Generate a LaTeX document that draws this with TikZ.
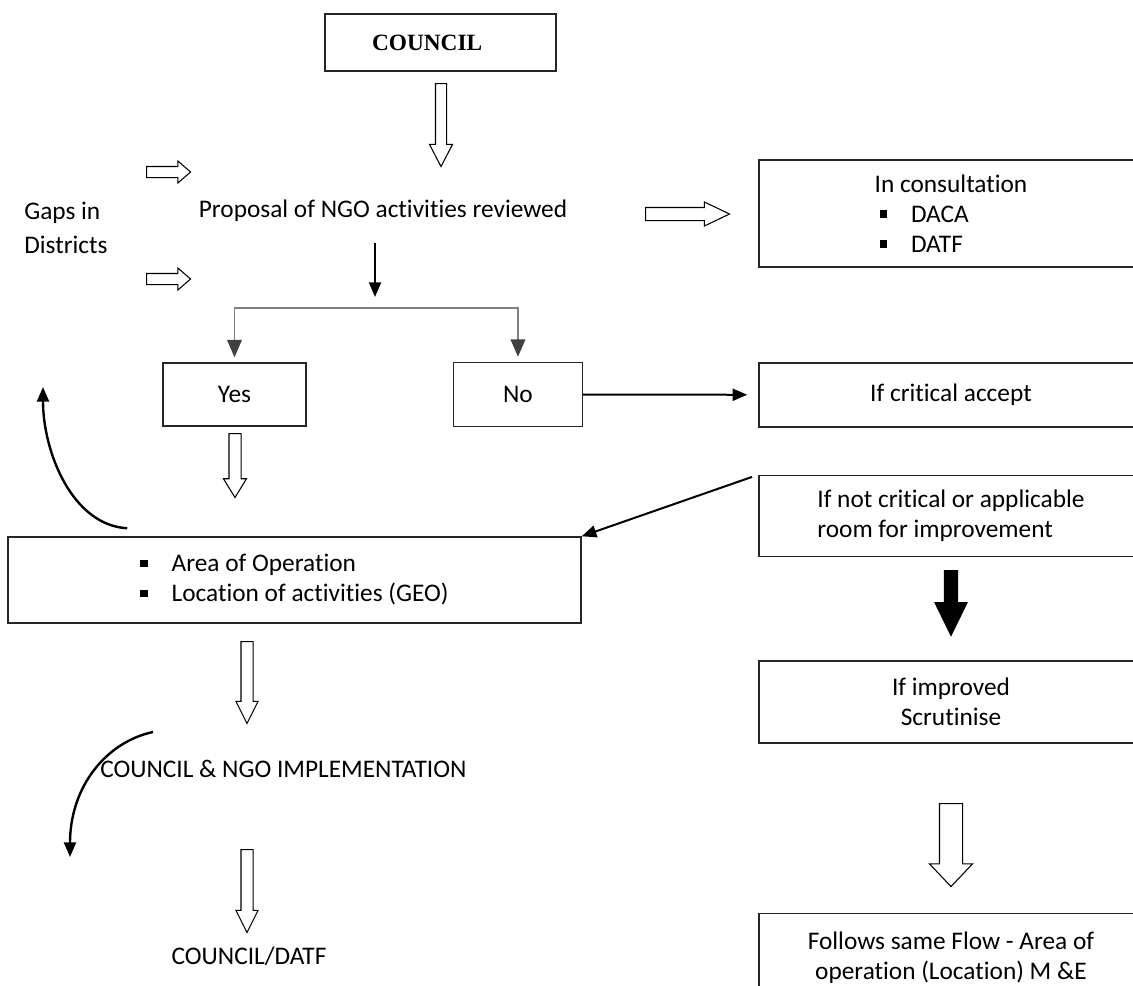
\documentclass[tikz,border=0pt]{standalone}
\usepackage{fontspec}
\setmainfont{Carlito}[Ligatures=NoCommon]
\newfontfamily\councilfont{Liberation Serif}
\usetikzlibrary{positioning}
\usetikzlibrary{shapes.arrows}
\usetikzlibrary{arrows.meta}
\newcommand{\flowtext}{\fontsize{19pt}{22.5pt}\selectfont}
\newcommand{\sqitem}{\rule[3.4pt]{5.5pt}{5.5pt}\hspace{18pt}}
\tikzset{flow box/.style={draw=black!85, line width=1.1pt, font=\flowtext, align=left, inner sep=0pt},}
\tikzset{flow text/.style={font=\flowtext, inner sep=0pt, align=left},}
\tikzset{hollow arrow/.style={single arrow, draw, fill=white, line width=0.8pt, inner xsep=0pt, single arrow head indent=0pt},}
\tikzset{solid arrow/.style={single arrow, draw, fill=black, line width=0.8pt, inner xsep=0pt, single arrow head indent=0pt},}
\tikzset{link/.style={line width=1.5pt, -{Triangle[length=11pt, width=9pt]}},}
\tikzset{gray link/.style={draw=gray, line width=1pt, -{Triangle[length=13pt, width=11pt, color=black!75]}},}
\tikzset{curve link/.style={line width=1.8pt, -{Triangle[length=11pt, width=9pt]}},}

\begin{document}
\begin{tikzpicture}[x=0.75pt, y=-0.75pt]
     \useasboundingbox (0,0) rectangle (1133,986);
     \clip (0,0) rectangle (1133,986);

     \node[flow box, text width=102.75pt, inner xsep=35.25pt, minimum height=42.75pt, font=\councilfont\bfseries\fontsize{17.5pt}{21pt}\selectfont] (council) at (440.5,42.5) {COUNCIL};
     \node[flow text, anchor=north west] (gaps) at (24,202) {Gaps in\\[2.5pt]Districts};
     \node[flow text, anchor=base] (proposal) at (383,217) {Proposal of NGO activities reviewed};
     \node[flow box, minimum width=288pt, minimum height=80.25pt] (consult) at (951,213.5) {In consultation\\\hspace{3.75pt}\sqitem DACA\\\hspace{3.75pt}\sqitem DATF};

     \node[flow box, minimum width=107.25pt, minimum height=47.25pt] (yes) at (234.5,394.5) {Yes};
     \node[flow box, minimum width=96.75pt, minimum height=48pt, right=109.5pt of yes] (no) {No};
     \node[flow box, minimum width=288pt, minimum height=48pt] (crit) at (951,395) {If critical accept};
     \node[flow box, minimum width=288pt, minimum height=60.75pt, below=35.25pt of crit] (notcrit) {If not critical or applicable\\room for improvement};
     \node[flow box, minimum width=288pt, minimum height=61.5pt, align=center, below=77.25pt of notcrit] (improved) {If improved\\Scrutinise};
     \node[flow box, minimum width=288pt, minimum height=66pt, align=center, below=126.75pt of improved] (follows) {Follows same Flow - Area of\\operation (Location) M \&E};

     \node[flow box, minimum width=429.75pt, minimum height=64.5pt] (area) at (294.5,580) {\sqitem Area of Operation\\\sqitem Location of activities (GEO)};
     \node[flow text, anchor=base west] (impl) at (100,777) {COUNCIL \& NGO IMPLEMENTATION};
     \node[flow text, anchor=base] (datf) at (249,964) {COUNCIL/DATF};

     % block arrows
     \node[hollow arrow, rotate=-90, anchor=tail, minimum height=62.25pt, inner ysep=3.75pt, single arrow head extend=4.5pt, single arrow tip angle=55] (arrcouncil) at (441,83) {};
     \node[hollow arrow, anchor=tail, minimum height=33pt, inner ysep=3.75pt, single arrow head extend=4.125pt, single arrow tip angle=82] (gapsup) at (146,172) {};
     \node[hollow arrow, anchor=tail, minimum height=33pt, inner ysep=3.75pt, single arrow head extend=4.125pt, single arrow tip angle=82] (gapsdown) at (146,279) {};
     \node[hollow arrow, anchor=tail, minimum height=63pt, inner ysep=4.5pt, single arrow head extend=4.125pt, single arrow tip angle=51] (arrconsult) at (645,214) {};
     \node[hollow arrow, rotate=-90, anchor=tail, minimum height=48pt, inner ysep=4.125pt, single arrow head extend=4.125pt, single arrow tip angle=63] (arryes) at (235,433) {};
     \node[hollow arrow, rotate=-90, anchor=tail, minimum height=61.5pt, inner ysep=4.125pt, single arrow head extend=3.75pt, single arrow tip angle=53] (arrarea) at (247,641) {};
     \node[hollow arrow, rotate=-90, anchor=tail, minimum height=62.25pt, inner ysep=4.125pt, single arrow head extend=3.75pt, single arrow tip angle=53] (arrimpl) at (247,849) {};
     \node[solid arrow, rotate=-90, anchor=tail, minimum height=48.75pt, inner ysep=4.5pt, single arrow head extend=7.125pt, single arrow tip angle=52] (arrthick) at (951,570) {};
     \node[hollow arrow, rotate=-90, anchor=tail, minimum height=62.25pt, inner ysep=8.25pt, single arrow head extend=7.5pt, single arrow tip angle=87] (arrimproved) at (951,803) {};

     % connectors
     \coordinate (fork) at (375,308);
     \coordinate (loopup) at (43,387);
     \coordinate (loopdown) at (70,857);
     \draw[link, shorten <=16.5pt, shorten >=8.25pt] (proposal.south -| fork) -- (fork);
     \draw[gray link, shorten >=3.75pt] (fork) -| (yes);
     \draw[gray link, shorten >=3.75pt] (fork) -| (no);
     \path[link]
     (no) edge[shorten >=8.25pt] (crit)
     (notcrit.north west) edge[shorten <=5pt] (area.north east);
     \draw[curve link] ([shift={(120,-8)}]area.north west) .. controls +(-55,-3) and +(0,65) .. (loopup);
     \draw[curve link] ([shift={(53,-45)}]impl.base west) .. controls +(-47,10) and +(0,-70) .. (loopdown);
\end{tikzpicture}
\end{document}
